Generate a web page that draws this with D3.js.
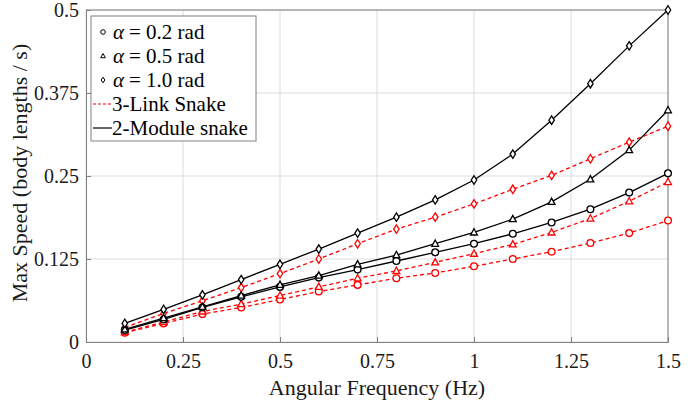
<!DOCTYPE html>
<html>
<head>
<meta charset="utf-8">
<script src="https://cdn.jsdelivr.net/npm/d3@7"></script>
<style>
  body { margin: 0; background: #fff; }
  svg { font-family: "Liberation Serif", "Times New Roman", serif; }
</style>
</head>
<body>
<div id="chart"></div>
<script>
// frequencies (Hz)
const freqs = [0.1, 0.2, 0.3, 0.4, 0.5, 0.6, 0.7, 0.8, 0.9, 1.0, 1.1, 1.2, 1.3, 1.4, 1.5];

// 2-Module snake (black solid)
const moduleA02 = [0.018, 0.034, 0.052, 0.068, 0.083, 0.097, 0.109, 0.122, 0.135, 0.148, 0.163, 0.180, 0.200, 0.225, 0.254];
const moduleA05 = [0.019, 0.036, 0.053, 0.070, 0.086, 0.100, 0.117, 0.131, 0.148, 0.165, 0.185, 0.211, 0.245, 0.289, 0.349];
const moduleA10 = [0.028, 0.049, 0.071, 0.094, 0.117, 0.140, 0.164, 0.188, 0.214, 0.244, 0.283, 0.334, 0.389, 0.446, 0.500];

// 3-Link snake (red dashed)
const linkA02 = [0.014, 0.028, 0.042, 0.052, 0.064, 0.076, 0.086, 0.096, 0.104, 0.114, 0.125, 0.136, 0.149, 0.164, 0.183];
const linkA05 = [0.015, 0.030, 0.046, 0.057, 0.070, 0.083, 0.096, 0.107, 0.120, 0.133, 0.147, 0.165, 0.186, 0.212, 0.241];
const linkA10 = [0.022, 0.043, 0.062, 0.082, 0.103, 0.125, 0.148, 0.170, 0.188, 0.208, 0.230, 0.251, 0.276, 0.301, 0.325];

const xTicks = [0, 0.25, 0.5, 0.75, 1, 1.25, 1.5];
const yTicks = [0, 0.125, 0.25, 0.375, 0.5];

const series = [
  { values: linkA02, marker: "circle", color: "#ff0000", dash: "4,3" },
  { values: linkA05, marker: "triangle", color: "#ff0000", dash: "4,3" },
  { values: linkA10, marker: "diamond", color: "#ff0000", dash: "4,3" },
  { values: moduleA02, marker: "circle", color: "#000", dash: null },
  { values: moduleA05, marker: "triangle", color: "#000", dash: null },
  { values: moduleA10, marker: "diamond", color: "#000", dash: null },
];

const serif = "Liberation Serif, Times New Roman, serif";
const width = 697, height = 403;
const margin = { top: 10, right: 29, bottom: 61, left: 86 };

const svg = d3.select("#chart").append("svg")
  .attr("width", width).attr("height", height);

const x = d3.scaleLinear().domain([0, 1.5]).range([margin.left, width - margin.right]);
const y = d3.scaleLinear().domain([0, 0.5]).range([height - margin.bottom, margin.top]);

// grid
svg.append("g").selectAll("line.gx").data(xTicks).enter().append("line")
  .attr("x1", d => x(d)).attr("x2", d => x(d))
  .attr("y1", y(0)).attr("y2", y(0.5))
  .attr("stroke", "#dcdcdc").attr("stroke-width", 1);
svg.append("g").selectAll("line.gy").data(yTicks).enter().append("line")
  .attr("x1", x(0)).attr("x2", x(1.5))
  .attr("y1", d => y(d)).attr("y2", d => y(d))
  .attr("stroke", "#dcdcdc").attr("stroke-width", 1);

// axes
const xAxis = svg.append("g")
  .attr("transform", "translate(0," + y(0) + ")")
  .call(d3.axisBottom(x).tickValues(xTicks).tickSize(-5).tickPadding(12)
    .tickFormat(d => d3.format("")(d)));
const yAxis = svg.append("g")
  .attr("transform", "translate(" + x(0) + ",0)")
  .call(d3.axisLeft(y).tickValues(yTicks).tickSize(-5).tickPadding(7)
    .tickFormat(d => d3.format("")(d)));
[xAxis, yAxis].forEach(a => {
  a.selectAll("text").attr("font-size", 20).attr("fill", "#1a1a1a")
    .attr("font-family", serif);
  a.selectAll("line, path").attr("stroke", "#808080");
});

// box top / right
svg.append("line").attr("x1", x(0)).attr("x2", x(1.5)).attr("y1", y(0.5)).attr("y2", y(0.5))
  .attr("stroke", "#808080");
svg.append("line").attr("x1", x(1.5)).attr("x2", x(1.5)).attr("y1", y(0)).attr("y2", y(0.5))
  .attr("stroke", "#808080");

// axis titles
svg.append("text")
  .attr("x", x(0.75)).attr("y", 395)
  .attr("text-anchor", "middle").attr("font-size", 22).attr("fill", "#1a1a1a")
  .attr("font-family", serif)
  .text("Angular Frequency (Hz)");
svg.append("text")
  .attr("transform", "translate(27," + (y(0.25) - 3) + ") rotate(-90)")
  .attr("text-anchor", "middle").attr("font-size", 22).attr("fill", "#1a1a1a")
  .attr("font-family", serif)
  .text("Max Speed (body lengths / s)");

// marker drawing
function markerPath(type, s) {
  if (type === "circle") return d3.symbol(d3.symbolCircle, s * s * 3.14)();
  if (type === "triangle") return "M0," + (-s * 1.1) + "L" + s + "," + (s * 0.75) + "L" + (-s) + "," + (s * 0.75) + "Z";
  return "M0," + (-s * 1.25) + "L" + (s * 0.8) + ",0L0," + (s * 1.25) + "L" + (-s * 0.8) + ",0Z";
}

const line = d3.line().x((d, i) => x(freqs[i])).y(d => y(d));

series.forEach(s => {
  const g = svg.append("g");
  g.append("path").datum(s.values)
    .attr("d", line).attr("fill", "none")
    .attr("stroke", s.color).attr("stroke-width", 1.3)
    .attr("stroke-dasharray", s.dash);
  g.selectAll("path.m").data(s.values).enter().append("path")
    .attr("class", "m")
    .attr("transform", (d, i) => "translate(" + x(freqs[i]) + "," + y(d) + ")")
    .attr("d", markerPath(s.marker, 3.4))
    .attr("fill", "#fff").attr("stroke", s.color).attr("stroke-width", 1.3);
});

// legend
const legendItems = [
  { label: "= 0.2 rad", alpha: true, marker: "circle" },
  { label: "= 0.5 rad", alpha: true, marker: "triangle" },
  { label: "= 1.0 rad", alpha: true, marker: "diamond" },
  { label: "3-Link Snake", line: "#ff0000", dash: "3,2" },
  { label: "2-Module snake", line: "#000", dash: null },
];
const lg = svg.append("g");
lg.append("rect").attr("x", 91).attr("y", 16).attr("width", 165).attr("height", 125)
  .attr("fill", "#fff").attr("stroke", "#808080").attr("stroke-width", 1);
legendItems.forEach((d, i) => {
  const cy = 32 + i * 24;
  if (d.alpha) {
    lg.append("path").attr("transform", "translate(103," + cy + ")")
      .attr("d", markerPath(d.marker, 2.3))
      .attr("fill", "#fff").attr("stroke", "#000").attr("stroke-width", 1);
    const t = lg.append("text").attr("x", 113).attr("y", cy + 7)
      .attr("font-size", 21).attr("fill", "#000").attr("font-family", serif);
    t.append("tspan").attr("font-style", "italic").text("\u03b1");
    t.append("tspan").attr("dx", 5).text(d.label);
  } else {
    lg.append("line").attr("x1", 93).attr("x2", 112).attr("y1", cy).attr("y2", cy)
      .attr("stroke", d.line).attr("stroke-width", 1.2).attr("stroke-dasharray", d.dash);
    lg.append("text").attr("x", 112).attr("y", cy + 7)
      .attr("font-size", 21).attr("fill", "#000").attr("font-family", serif).text(d.label);
  }
});
</script>
</body>
</html>
